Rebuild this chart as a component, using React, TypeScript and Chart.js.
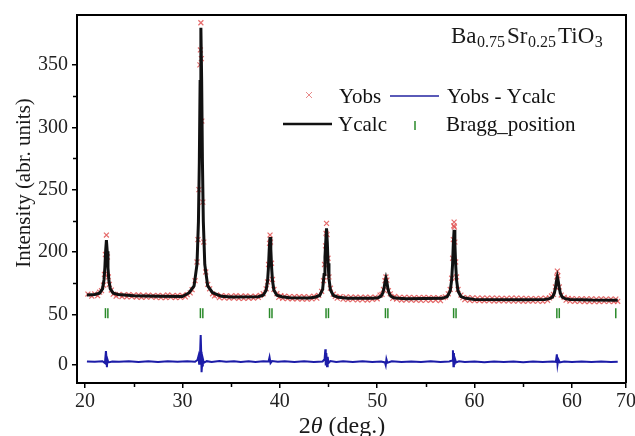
import React, { useEffect, useRef } from 'react';
import { Chart, registerables } from 'chart.js';

Chart.register(...registerables);

const FONT = "'Liberation Serif', 'Times New Roman', serif";

// axis ranges / ticks (internal plot units, labels as printed on the figure)
const xRange = [19.18, 75.55];
const yRange = [-5, 290];
const xTickValues = [20, 30, 40, 50, 60, 70, 75.55];
const xTickLabels = ['20', '30', '40', '50', '60', '60', '70'];
const xMinorTicks = [25, 35, 45, 55, 65];
const yTickValues = [10, 50, 100, 150, 200, 250];
const yTickLabels = ['0', '50', '200', '250', '300', '350'];
const yMinorTicks = [75, 125, 175, 225];

// Ycalc curve
const ycalcPoints: [number, number][] = [
  [20.2, 65.5], [21.0, 65.9], [21.5, 67.0], [21.8, 70.5], [21.95, 77.6], [22.04, 87.4], [22.12, 100.7],
  [22.2, 109.6], [22.28, 100.7], [22.36, 87.4], [22.45, 77.6], [22.6, 70.5], [22.9, 67.0], [23.4, 65.9],
  [25.0, 64.9], [27.5, 64.5], [30.0, 64.3], [30.7, 67.4], [31.2, 72.8], [31.5, 90], [31.65, 124.6],
  [31.74, 172], [31.82, 236.7], [31.9, 279.8], [31.98, 236.7], [32.06, 172], [32.15, 124.6], [32.3, 90],
  [32.6, 72.8], [33.1, 67.4], [34.0, 64.5], [35.0, 64.0], [37.8, 64.2], [38.3, 65.4], [38.6, 69.3],
  [38.75, 77.1], [38.84, 87.8], [38.92, 102.3], [39.0, 112], [39.08, 102.3], [39.16, 87.8], [39.25, 77.1],
  [39.4, 69.3], [39.7, 65.4], [40.2, 64.2], [41.0, 63.4], [43.0, 63.2], [43.6, 63.8], [44.1, 65.2],
  [44.4, 70], [44.55, 82], [44.64, 96], [44.72, 108], [44.8, 119], [44.88, 107.8], [44.96, 91],
  [45.05, 78.7], [45.2, 69.7], [45.5, 65.2], [46.0, 63.8], [47.0, 63.0], [49.6, 62.9], [50.1, 63.4],
  [50.4, 64.6], [50.58, 67.2], [50.7, 70.8], [50.8, 75.7], [50.9, 79], [51.0, 75.7], [51.1, 70.8],
  [51.22, 67.2], [51.4, 64.6], [51.7, 63.4], [52.2, 62.9], [53.0, 62.5], [56.7, 62.9], [57.2, 64.3],
  [57.5, 68.8], [57.65, 77.7], [57.74, 89.9], [57.82, 106.6], [57.9, 117.7], [57.98, 106.6], [58.06, 89.9],
  [58.15, 77.7], [58.3, 68.8], [58.6, 64.3], [59.1, 62.9], [60.0, 62.0], [65.0, 61.8], [67.2, 62.0],
  [67.7, 62.6], [68.0, 63.8], [68.18, 66.8], [68.3, 70.8], [68.4, 76.3], [68.5, 80], [68.6, 76.3],
  [68.7, 70.8], [68.82, 66.8], [69.0, 63.8], [69.3, 62.6], [69.8, 62.0], [72.0, 61.5], [74.7, 61.4],
];

// Yobs observed points
const yobsPoints: [number, number][] = [
  [20.3, 66.3], [20.7, 64.6], [21.0, 66.4], [21.3, 65.0], [21.5, 67.8],
  [21.7, 69.0], [21.9, 73.5], [22.0, 82], [22.1, 98], [22.2, 113.6], [22.3, 96], [22.4, 80], [22.5, 74], [22.7, 69.5], [22.9, 66.2],
  [23.2, 64.6], [23.5, 66.1], [23.8, 64.3], [24.0, 65.6], [24.3, 64.0], [24.5, 65.9], [24.8, 64.2], [25.0, 65.5],
  [25.3, 63.9], [25.5, 65.6], [25.8, 63.7], [26.0, 65.3], [26.3, 63.8], [26.5, 65.5], [26.8, 64.0], [27.0, 65.1],
  [27.3, 63.6], [27.5, 65.3], [27.8, 63.4], [28.0, 65.0], [28.3, 63.5], [28.5, 65.6], [28.8, 63.8], [29.0, 65.0],
  [29.3, 63.5], [29.5, 65.2], [29.8, 63.6], [30.0, 65.2], [30.3, 64.0], [30.5, 65.8], [30.8, 67.2], [31.0, 69.8],
  [31.3, 77], [31.5, 92], [31.6, 110], [31.7, 150], [31.8, 250], [31.85, 262], [31.9, 283.8], [31.95, 255],
  [32.0, 205], [32.1, 140], [32.2, 108], [32.4, 84], [32.6, 74], [32.8, 70.5], [33.1, 66.5],
  [33.3, 64.8], [33.5, 65.6], [33.8, 63.4], [34.0, 65.0], [34.3, 63.2], [34.5, 64.9], [34.8, 63.1], [35.0, 64.7],
  [35.3, 63.2], [35.5, 65.0], [35.8, 62.9], [36.0, 64.6], [36.3, 62.8], [36.5, 64.8], [36.8, 63.1], [37.0, 64.5],
  [37.3, 63.0], [37.5, 64.6], [37.8, 63.6], [38.0, 65.2], [38.3, 66.6],
  [38.6, 70.5], [38.75, 76], [38.85, 90], [38.95, 107], [39.0, 113.6], [39.05, 108], [39.15, 91], [39.25, 78],
  [39.4, 70], [39.7, 66.6], [39.9, 63.6], [40.1, 65.0],
  [40.3, 62.9], [40.5, 64.6], [40.8, 62.6], [41.0, 64.3], [41.3, 62.5], [41.5, 64.3], [41.8, 62.4], [42.0, 64.2],
  [42.3, 62.3], [42.5, 64.2], [42.8, 62.2], [43.0, 64.0], [43.3, 62.4], [43.5, 64.6], [43.8, 63.0], [44.0, 65.2], [44.3, 68.5],
  [44.5, 77], [44.6, 90], [44.7, 105], [44.75, 115], [44.8, 123], [44.85, 114], [44.95, 95], [45.05, 80],
  [45.2, 71], [45.5, 66.2], [45.7, 64.4], [45.9, 63.0],
  [46.2, 64.2], [46.5, 62.2], [46.8, 64.0], [47.0, 61.8], [47.3, 63.8], [47.5, 62.0], [47.8, 63.9], [48.0, 61.6],
  [48.3, 63.7], [48.5, 61.8], [48.8, 63.8], [49.0, 61.5], [49.3, 63.6], [49.5, 62.0], [49.8, 63.9], [50.0, 62.5], [50.3, 65.5],
  [50.5, 66.0], [50.65, 70], [50.8, 77], [50.9, 80], [51.0, 77.5], [51.15, 69], [51.35, 66.5], [51.6, 62.8],
  [51.8, 64.4], [52.0, 62.2],
  [52.3, 63.7], [52.5, 61.5], [52.8, 63.6], [53.0, 61.6], [53.3, 63.6], [53.5, 61.4], [53.8, 63.5], [54.0, 61.5],
  [54.3, 63.4], [54.5, 61.2], [54.8, 63.6], [55.0, 61.4], [55.3, 63.5], [55.5, 61.3], [55.8, 63.4], [56.0, 61.5],
  [56.3, 63.3], [56.5, 61.0], [56.8, 63.4], [57.0, 64.0], [57.3, 66.5],
  [57.5, 70], [57.65, 79], [57.75, 95], [57.82, 110], [57.87, 121], [57.9, 124], [57.93, 120], [57.98, 108],
  [58.06, 92], [58.15, 80], [58.3, 70], [58.6, 65.5], [58.8, 63.4], [59.0, 61.8],
  [59.3, 63.4], [59.5, 61.2], [59.8, 63.2], [60.0, 61.0], [60.3, 63.0], [60.5, 61.1], [60.8, 63.1], [61.0, 60.9],
  [61.3, 63.1], [61.5, 61.0], [61.8, 63.0], [62.0, 60.7], [62.3, 63.0], [62.5, 60.9], [62.8, 62.9], [63.0, 60.8],
  [63.3, 62.9], [63.5, 60.8], [63.8, 63.0], [64.0, 60.6], [64.3, 63.0], [64.5, 60.8], [64.8, 62.8], [65.0, 60.5],
  [65.3, 62.8], [65.5, 60.7], [65.8, 62.7], [66.0, 60.7], [66.3, 62.7], [66.5, 60.6], [66.8, 62.8], [67.0, 60.5],
  [67.3, 63.0], [67.5, 61.2], [67.7, 63.2],
  [67.9, 64.8], [68.1, 66], [68.3, 72], [68.45, 80], [68.5, 84.7], [68.55, 81], [68.7, 72], [68.9, 65.5],
  [69.2, 63.6], [69.4, 61.4], [69.6, 62.8],
  [69.8, 60.6], [70.0, 62.6], [70.3, 60.5], [70.5, 62.4], [70.8, 60.4], [71.0, 62.5], [71.3, 60.3], [71.5, 62.4],
  [71.8, 60.3], [72.0, 62.4], [72.3, 60.2], [72.5, 62.3], [72.8, 60.3], [73.0, 62.5], [73.3, 60.4], [73.5, 62.3],
  [73.8, 60.4], [74.0, 62.3], [74.3, 60.3], [74.5, 62.2], [74.7, 60.5],
];

// Yobs - Ycalc difference curve
const diffPoints: [number, number][] = [
  [20.2, 12.3], [21.0, 12.0], [21.8, 12.4], [22.05, 11.0], [22.15, 20.5], [22.2, 16], [22.25, 7.7], [22.3, 14],
  [22.4, 11.5], [22.8, 12.2], [23.5, 12.0], [24.5, 12.5], [25.5, 11.8], [26.5, 12.4], [27.5, 11.9], [28.5, 12.5],
  [29.5, 12.0], [30.5, 12.4], [31.3, 12.0], [31.55, 13.5], [31.65, 16.5], [31.72, 10.5], [31.8, 14], [31.88, 33.4],
  [31.93, 20], [31.97, 3.7], [32.02, 9], [32.1, 14.5], [32.2, 11.2], [32.5, 12.5], [33.0, 11.8], [33.8, 12.6],
  [34.5, 12.0], [35.3, 12.5], [36.0, 11.9], [36.8, 12.4], [37.5, 11.9], [38.3, 12.4], [38.85, 12.2], [38.95, 15.7],
  [39.05, 11.0], [39.2, 12.6], [39.8, 12.0], [40.5, 12.4], [41.5, 11.9], [42.5, 12.4], [43.5, 11.9], [44.4, 12.3],
  [44.6, 14], [44.68, 22], [44.72, 9], [44.78, 19], [44.85, 8.5], [44.92, 16], [45.0, 11], [45.2, 12.6],
  [45.8, 11.9], [46.5, 12.5], [47.5, 11.8], [48.5, 12.4], [49.5, 11.9], [50.4, 12.3], [50.8, 11.5], [50.88, 9.3],
  [50.95, 14], [51.05, 11.2], [51.5, 12.4], [52.5, 11.9], [53.5, 12.3], [54.5, 11.8], [55.5, 12.4], [56.5, 11.9],
  [57.4, 12.3], [57.7, 13], [57.78, 21.3], [57.83, 8.5], [57.88, 19], [57.93, 9.5], [58.0, 14], [58.1, 11.5],
  [58.4, 12.4], [59.0, 11.8], [60.0, 12.3], [61.0, 11.7], [62.0, 12.2], [63.0, 11.8], [64.0, 12.3], [65.0, 11.7],
  [66.0, 12.2], [67.0, 11.8], [68.0, 12.3], [68.35, 12.0], [68.45, 18], [68.52, 10], [68.6, 14], [68.75, 11.5],
  [69.2, 12.2], [70.0, 11.8], [71.0, 12.3], [72.0, 11.8], [73.0, 12.2], [74.0, 11.8], [74.7, 12.1],
];

// Bragg reflection positions
const braggPositions = [22.1, 22.35, 31.85, 32.1, 38.95, 39.2, 44.75, 45.0, 50.85, 51.1, 57.85, 58.1, 68.45, 68.7, 74.5];
const braggLevel = 51;

const seriesLabels = ['Yobs', 'Ycalc', 'Yobs - Ycalc', 'Bragg_position'];
const seriesColors = ['rgba(225,80,80,0.85)', '#111111', '#1c1ca8', '#2a8a2a'];

const toXY = (pts: [number, number][]) => pts.map(([x, y]) => ({ x, y }));

const decorPlugin = {
  id: 'decor',
  afterDraw(chart: any) {
    const { ctx, chartArea, scales } = chart;
    const { left, right, top, bottom } = chartArea;
    ctx.save();
    // top & right frame
    ctx.strokeStyle = '#000';
    ctx.lineWidth = 2;
    ctx.beginPath();
    ctx.moveTo(left, top);
    ctx.lineTo(right, top);
    ctx.lineTo(right, bottom);
    ctx.stroke();
    // minor ticks
    ctx.lineWidth = 1.5;
    ctx.beginPath();
    xMinorTicks.forEach((v) => {
      const px = Math.round(scales.x.getPixelForValue(v)) + 0.5;
      ctx.moveTo(px, bottom);
      ctx.lineTo(px, bottom + 4);
    });
    yMinorTicks.forEach((v) => {
      const py = Math.round(scales.y.getPixelForValue(v)) + 0.5;
      ctx.moveTo(left, py);
      ctx.lineTo(left - 4, py);
    });
    ctx.stroke();

    ctx.fillStyle = '#1a1a1a';
    // y title
    ctx.save();
    ctx.translate(24, 183);
    ctx.rotate(-Math.PI / 2);
    ctx.font = `21px ${FONT}`;
    ctx.textAlign = 'center';
    ctx.textBaseline = 'middle';
    ctx.fillText('Intensity (abr. units)', 0, 0);
    ctx.restore();

    // x title: 2θ (deg.)
    ctx.textBaseline = 'alphabetic';
    ctx.textAlign = 'left';
    const normal = `24px ${FONT}`;
    const italic = `italic 24px ${FONT}`;
    const parts: [string, string][] = [['2', normal], ['θ', italic], [' (deg.)', normal]];
    let total = 0;
    parts.forEach(([t, f]) => { ctx.font = f; total += ctx.measureText(t).width; });
    let cx = 342 - total / 2;
    parts.forEach(([t, f]) => { ctx.font = f; ctx.fillText(t, cx, 433); cx += ctx.measureText(t).width; });

    // formula
    const formula: [string, boolean][] = [['Ba', false], ['0.75', true], ['Sr', false], ['0.25', true], ['TiO', false], ['3', true]];
    let fx = 451;
    formula.forEach(([t, sub]) => {
      ctx.font = sub ? `16px ${FONT}` : `23px ${FONT}`;
      ctx.fillText(t, fx, sub ? 47 : 43);
      fx += ctx.measureText(t).width + (sub ? 2 : 0.5);
    });

    // legend
    ctx.font = `21px ${FONT}`;
    ctx.textBaseline = 'middle';
    ctx.fillStyle = '#111';
    // Yobs marker
    ctx.strokeStyle = 'rgba(225,110,110,0.8)';
    ctx.lineWidth = 1;
    ctx.beginPath();
    ctx.moveTo(306, 92); ctx.lineTo(312, 98);
    ctx.moveTo(312, 92); ctx.lineTo(306, 98);
    ctx.stroke();
    ctx.fillText(seriesLabels[0], 339, 97);
    // Yobs - Ycalc line
    ctx.strokeStyle = '#5a5ab8';
    ctx.lineWidth = 2;
    ctx.beginPath(); ctx.moveTo(390, 96); ctx.lineTo(439, 96); ctx.stroke();
    ctx.fillText(seriesLabels[2], 447, 97);
    // Ycalc line
    ctx.strokeStyle = seriesColors[1];
    ctx.lineWidth = 2.5;
    ctx.beginPath(); ctx.moveTo(283, 124); ctx.lineTo(332, 124); ctx.stroke();
    ctx.fillText(seriesLabels[1], 338, 125);
    // Bragg marker
    ctx.strokeStyle = seriesColors[3];
    ctx.lineWidth = 1.5;
    ctx.beginPath(); ctx.moveTo(415, 121); ctx.lineTo(415, 130); ctx.stroke();
    ctx.fillText(seriesLabels[3], 446, 125);
    ctx.restore();
  },
};

export default function App() {
  const ref = useRef<HTMLCanvasElement | null>(null);
  useEffect(() => {
    if (!ref.current) return;
    const chart = new Chart(ref.current, {
      type: 'scatter',
      data: {
        datasets: [
          {
            label: seriesLabels[1],
            data: toXY(ycalcPoints),
            showLine: true,
            borderColor: seriesColors[1],
            borderWidth: 3,
            pointRadius: 0,
            tension: 0,
            order: 1,
          },
          {
            label: seriesLabels[0],
            data: toXY(yobsPoints),
            showLine: false,
            pointStyle: 'crossRot',
            pointRadius: 3.5,
            borderColor: seriesColors[0],
            pointBorderColor: seriesColors[0],
            pointBorderWidth: 1.2,
            order: 2,
          },
          {
            label: seriesLabels[2],
            data: toXY(diffPoints),
            showLine: true,
            borderColor: seriesColors[2],
            borderWidth: 2,
            pointRadius: 0,
            tension: 0,
            order: 3,
          },
          {
            label: seriesLabels[3],
            data: braggPositions.map((x) => ({ x, y: braggLevel })),
            showLine: false,
            pointStyle: 'line',
            rotation: 90,
            pointRadius: 5,
            borderColor: seriesColors[3],
            pointBorderColor: seriesColors[3],
            pointBorderWidth: 1.5,
            order: 4,
          },
        ],
      },
      options: {
        responsive: false,
        animation: false,
        layout: { padding: { top: 15, right: 9, left: 0, bottom: 0 } },
        plugins: { legend: { display: false }, tooltip: { enabled: false }, title: { display: false } },
        scales: {
          x: {
            type: 'linear',
            min: xRange[0],
            max: xRange[1],
            afterBuildTicks: (s: any) => { s.ticks = xTickValues.map((v) => ({ value: v })); },
            afterFit: (s: any) => { s.height = 53; s.paddingLeft = 0; s.paddingRight = 0; },
            ticks: {
              callback: (_v: any, i: number) => xTickLabels[i],
              font: { size: 20, family: FONT },
              color: '#222',
              padding: 2,
              maxRotation: 0,
              autoSkip: false,
            },
            grid: { drawOnChartArea: false, tickLength: 5, color: '#000', lineWidth: 1.5 },
            border: { display: true, color: '#000', width: 2 },
          },
          y: {
            type: 'linear',
            min: yRange[0],
            max: yRange[1],
            afterBuildTicks: (s: any) => { s.ticks = yTickValues.map((v) => ({ value: v })); },
            afterFit: (s: any) => { s.width = 77; s.paddingTop = 0; s.paddingBottom = 0; },
            ticks: {
              callback: (_v: any, i: number) => yTickLabels[i],
              font: { size: 20, family: FONT },
              color: '#222',
              padding: 4,
              autoSkip: false,
            },
            grid: { drawOnChartArea: false, tickLength: 5, color: '#000', lineWidth: 1.5 },
            border: { display: true, color: '#000', width: 2 },
          },
        },
      },
      plugins: [decorPlugin],
    });
    return () => chart.destroy();
  }, []);
  return (
    <div style={{ position: 'absolute', left: 0, top: 0, width: 635, height: 436, background: '#fff' }}>
      <canvas ref={ref} width={635} height={436} />
    </div>
  );
}
